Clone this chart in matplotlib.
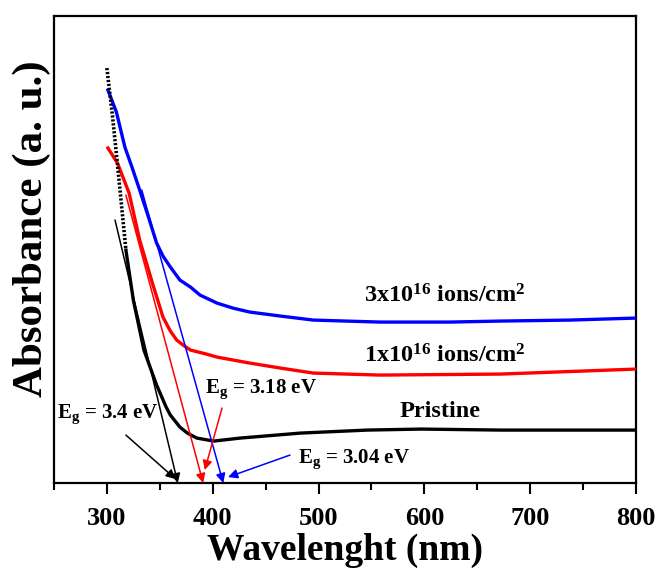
import numpy as np
import matplotlib
matplotlib.use("Agg")
import matplotlib.pyplot as plt

# ─── Daten ────────────────────────────────────────────────
wl_pristine = [300, 305, 310, 318, 325, 335, 347, 356, 360, 369, 376, 385,
               401, 426, 483, 546, 597, 672, 800]
ab_pristine = [4.15, 3.70, 3.19, 2.33, 1.83, 1.33, 0.98, 0.76, 0.68, 0.56,
               0.50, 0.45, 0.42, 0.45, 0.50, 0.53, 0.54, 0.53, 0.53]

wl_1e16 = [301, 310, 321, 331, 343, 353, 360, 366, 372, 379, 394, 404, 435,
           464, 495, 558, 672, 800]
ab_1e16 = [3.35, 3.20, 2.90, 2.43, 2.00, 1.66, 1.52, 1.43, 1.38, 1.33, 1.29,
           1.26, 1.20, 1.15, 1.10, 1.08, 1.09, 1.14]

wl_3e16 = [301, 309, 317, 324, 331, 339, 347, 353, 360, 369, 379, 388, 404,
           419, 435, 464, 495, 526, 558, 624, 672, 738, 800]
ab_3e16 = [3.93, 3.71, 3.36, 3.15, 2.93, 2.67, 2.40, 2.27, 2.16, 2.03, 1.96,
           1.88, 1.80, 1.75, 1.71, 1.67, 1.63, 1.62, 1.61, 1.61, 1.62, 1.63, 1.65]

# Tangenten: Startpunkt und Schnittpunkt mit der x-Achse
tangent_start_wl = [307.7, 318, 333]
tangent_start_ab = [2.63, 2.88, 2.93]
cutoff_wl        = [367, 391, 410]

eg_labels = ["3.4", "3.18", "3.04"]
farben    = ["black", "red", "blue"]

# ─── Schrift ──────────────────────────────────────────────
plt.rcParams["font.family"] = "Liberation Serif"
plt.rcParams["font.weight"] = "bold"
plt.rcParams["mathtext.fontset"] = "custom"
plt.rcParams["mathtext.rm"] = "Liberation Serif:bold"
plt.rcParams["mathtext.bf"] = "Liberation Serif:bold"
plt.rcParams["mathtext.it"] = "Liberation Serif:bold"

fig = plt.figure(figsize=(6.58, 5.69), dpi=100)
ax = fig.add_axes([0.082, 0.151, 0.8846, 0.8208])

# ─── Kurven ───────────────────────────────────────────────
ax.plot(wl_3e16, ab_3e16, color="blue", lw=2.4, zorder=3)
ax.plot(wl_1e16, ab_1e16, color="red", lw=2.4, zorder=3)

n_dot = 4  # steiler Teil gepunktet
ax.plot(wl_pristine[:n_dot], ab_pristine[:n_dot], color="black", lw=2.6,
        ls=(0, (0.6, 0.5)), zorder=3)
ax.plot(wl_pristine[n_dot - 1:], ab_pristine[n_dot - 1:], color="black",
        lw=2.4, zorder=3)

# ─── Tangenten ────────────────────────────────────────────
for x0, y0, xc, c in zip(tangent_start_wl, tangent_start_ab, cutoff_wl, farben):
    ax.annotate("", xy=(xc, 0.0), xytext=(x0, y0),
                arrowprops=dict(arrowstyle="-|>", color=c, lw=1.1,
                                mutation_scale=14, shrinkA=0, shrinkB=0))

# ─── Eg Beschriftungen ────────────────────────────────────
eg_text_px   = [(57, 418), (205, 393), (298, 463)]
eg_arrow_von = [(318.0, 0.48), (408.8, 0.75), (473, 0.28)]
eg_arrow_bis = [(365.0, 0.04), (392.5, 0.13), (414.5, 0.06)]

for (x, y), lab in zip(eg_text_px, eg_labels):
    fig.text(x / 658, 1 - y / 569, r"E$_{\mathrm{g}}$ = " + lab + " eV",
             fontsize=15, fontweight="bold", va="baseline", ha="left")
for (x0, y0), (x1, y1), c in zip(eg_arrow_von, eg_arrow_bis, farben):
    ax.annotate("", xy=(x1, y1), xytext=(x0, y0),
                arrowprops=dict(arrowstyle="-|>", color=c, lw=1.1,
                                mutation_scale=14, shrinkA=0, shrinkB=0))

# ─── Kurvennamen ──────────────────────────────────────────
ax.text(619.5, 1.81, r"3x10$^{\mathrm{16}}$ ions/cm$^{\mathrm{2}}$",
        fontsize=17.5, ha="center", va="baseline", fontweight="bold")
ax.text(619.5, 1.21, r"1x10$^{\mathrm{16}}$ ions/cm$^{\mathrm{2}}$",
        fontsize=17.5, ha="center", va="baseline", fontweight="bold")
ax.text(614.8, 0.66, "Pristine", fontsize=17.5, ha="center", va="baseline",
        fontweight="bold")

# ─── Achsen ───────────────────────────────────────────────
ax.set_xlim(250, 800)
ax.set_ylim(0, 4.67)
ax.set_xticks([300, 400, 500, 600, 700, 800])
ax.set_xticks(np.arange(250, 801, 50), minor=True)
ax.set_yticks([])
ax.tick_params(axis="x", which="major", direction="out", length=8, width=1.5,
               labelsize=19, pad=9)
ax.tick_params(axis="x", which="minor", direction="out", length=5, width=1.5)
for lbl in ax.get_xticklabels():
    lbl.set_fontweight("bold")
for s in ax.spines.values():
    s.set_linewidth(1.6)

ax.set_xlabel("Wavelenght (nm)", fontsize=27, fontweight="bold", labelpad=2)
ax.set_ylabel("Absorbance (a. u.)", fontsize=31, fontweight="bold")
ax.yaxis.set_label_coords(-0.005, 0.544)

fig.savefig("out.png", dpi=100)
